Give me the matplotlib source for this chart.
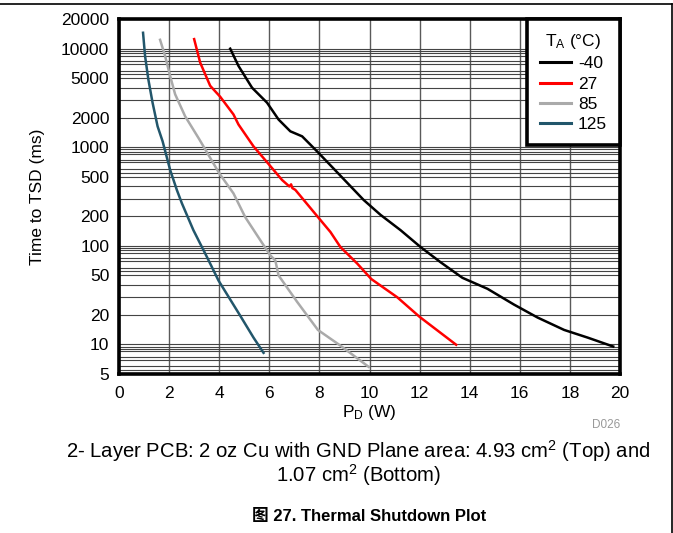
import matplotlib
matplotlib.use('Agg')
import matplotlib.pyplot as plt
from matplotlib.ticker import FixedLocator, NullFormatter
from matplotlib.lines import Line2D

plt.rcParams['font.family'] = ['Liberation Sans', 'Noto Sans CJK SC', 'DejaVu Sans']
plt.rcParams['mathtext.fontset'] = 'custom'
plt.rcParams['mathtext.rm'] = 'Liberation Sans'
plt.rcParams['mathtext.it'] = 'Liberation Sans:italic'

# P_D (W) vs time to thermal shutdown (ms)
pd_m40 = [4.44, 4.77, 5.31, 5.91, 6.37, 6.84, 7.31, 7.91, 8.84, 9.77, 10.44,
          11.24, 12.04, 12.84, 13.71, 14.71, 15.77, 16.71, 17.77, 18.71, 19.73]
t_m40 = [10000, 6680, 4020, 2830, 1910, 1450, 1290, 906, 514, 291, 206,
         144, 97, 68, 47.3, 36.6, 25.3, 18.7, 14.0, 11.7, 9.5]

pd_27 = [3.0, 3.24, 3.64, 4.04, 4.57, 4.77, 5.37, 5.94, 6.51, 6.80, 6.87,
         6.92, 7.04, 7.91, 8.44, 8.84, 9.51, 10.07, 10.44, 11.11, 12.0, 13.46]
t_27 = [12500, 7230, 4200, 3250, 2150, 1700, 1020, 690, 465, 400, 420,
        385, 369, 200, 138, 97, 66, 46, 39.5, 30, 19, 9.9]

pd_85 = [1.64, 1.84, 2.04, 2.24, 2.64, 3.2, 4.0, 4.57, 5.04, 5.64, 6.04,
         6.24, 6.37, 7.11, 7.94, 8.84, 9.97]
t_85 = [12300, 8450, 5300, 3450, 2060, 1210, 545, 340, 195, 114, 80,
        71, 50, 27, 14, 9.7, 5.9]

pd_125 = [0.96, 1.04, 1.17, 1.34, 1.54, 1.74, 2.04, 2.31, 2.51, 2.97, 3.51,
          3.97, 4.84, 5.37, 5.77]
t_125 = [14500, 8450, 4900, 2830, 1630, 1150, 590, 368, 270, 144, 77,
         44.5, 19.5, 11.7, 8.2]

labels = ['-40', '27', '85', '125']
colors = ['#000000', '#FF0000', '#AAAAAA', '#22566B']

xticks = [0, 2, 4, 6, 8, 10, 12, 14, 16, 18, 20]
yticks = [5, 10, 20, 50, 100, 200, 500, 1000, 2000, 5000, 10000, 20000]

fig = plt.figure(figsize=(6.73, 5.33), dpi=100)
ax = fig.add_axes([119 / 673, 1 - 374 / 533, 501 / 673, 355 / 533])

series = [(pd_m40, t_m40), (pd_27, t_27), (pd_85, t_85), (pd_125, t_125)]
for (x, y), lab, c in zip(series, labels, colors):
    ax.plot(x, y, color=c, lw=1.8, label=lab, zorder=3)

ax.set_yscale('log')
ax.set_xlim(0, 20)
ax.set_ylim(5, 20000)
ax.set_xticks(xticks)
ax.set_xticklabels([str(v) for v in xticks])
ax.set_yticks(yticks)
ax.set_yticklabels([str(v) for v in yticks])

# excel style minor grid
minor = []
for d in [1, 10, 100, 1000]:
    for m in [2, 3, 4, 5, 5.5, 6, 7, 7.5, 8.5, 9, 9.5]:
        if 5 <= m * d <= 20000:
            minor.append(m * d)
ax.yaxis.set_minor_locator(FixedLocator(minor))
ax.yaxis.set_minor_formatter(NullFormatter())
ax.grid(True, which='both', axis='y', color='#444444', lw=0.8)
ax.grid(True, which='major', axis='x', color='#5a5a5a', lw=1.0)
ax.tick_params(which='both', length=0, labelsize=12.5)
ax.tick_params(axis='x', pad=9)
ax.tick_params(axis='y', pad=7)
for s in ax.spines.values():
    s.set_linewidth(2.6)
    s.set_zorder(4)

ax.set_xlabel('P$_\\mathrm{D}$ (W)', fontsize=12.5)
ax.set_ylabel('Time to TSD (ms)', fontsize=12.5)
ax.xaxis.set_label_coords(0.5, -0.081)
ax.yaxis.set_label_coords(-0.148, 0.5)

leg = ax.legend(title='T$_\\mathrm{A}$ (°C)', loc='upper right', bbox_to_anchor=(1, 1),
                borderaxespad=0, fancybox=False, framealpha=1, edgecolor='black',
                fontsize=12.5, title_fontsize=12.5, handlelength=1.8,
                handletextpad=0.4, labelspacing=0.3, borderpad=0.75)
leg.get_frame().set_linewidth(2.6)
leg.set_zorder(5)
for h in leg.get_lines():
    h.set_linewidth(2.2)

fig.text(620 / 673, 1 - 425 / 533, 'D026', color='#999999', fontsize=8.5,
         ha='right', va='center')
fig.text(358.5 / 673, 1 - 451 / 533,
         '2- Layer PCB: 2 oz Cu with GND Plane area: 4.93 cm$^2$ (Top) and',
         fontsize=14.6, ha='center', va='center')
fig.text(358.5 / 673, 1 - 475 / 533, '1.07 cm$^2$ (Bottom)',
         fontsize=14.6, ha='center', va='center')
fig.text(369.5 / 673, 1 - 517 / 533, '图 27. Thermal Shutdown Plot',
         fontsize=12, fontweight='bold', ha='center', va='center')

# outer frame lines
fig.add_artist(Line2D([0, 671.5 / 673], [1 - 4 / 533, 1 - 4 / 533], color='black', lw=1.2))
fig.add_artist(Line2D([671.5 / 673, 671.5 / 673], [1 - 4 / 533, 0], color='black', lw=1.2))

fig.savefig('out.png', dpi=100)
